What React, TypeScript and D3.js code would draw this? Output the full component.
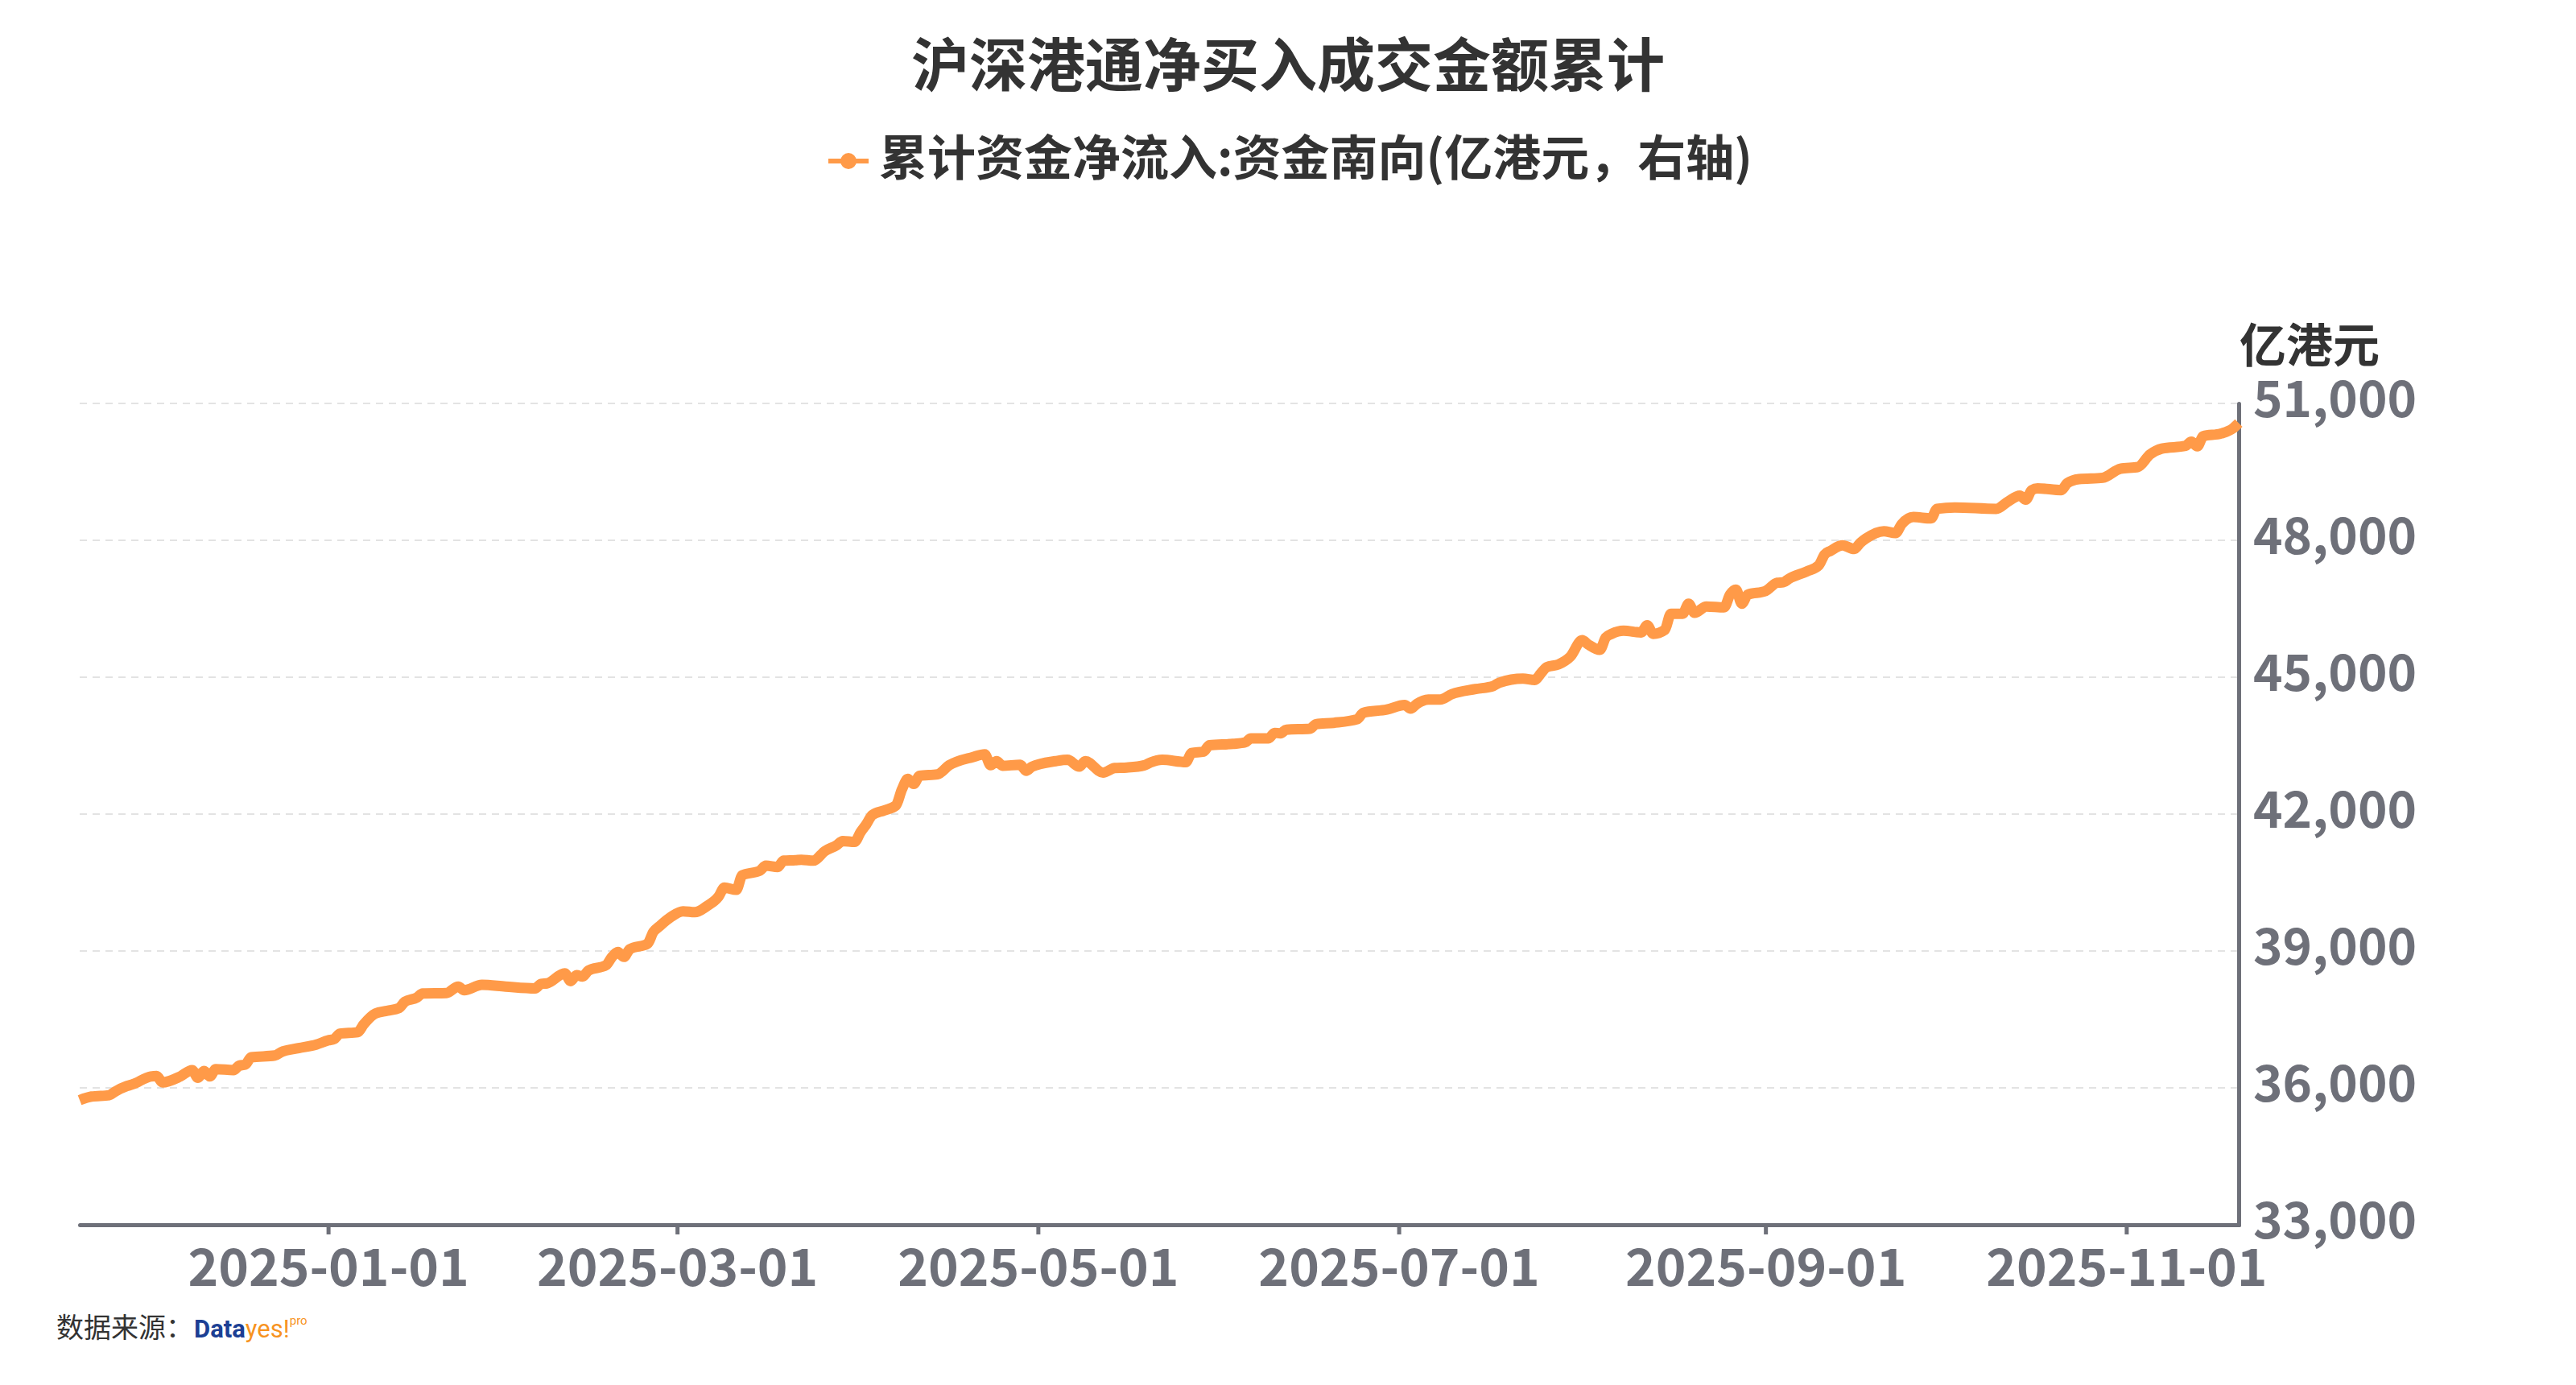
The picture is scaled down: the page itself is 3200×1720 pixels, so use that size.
import * as React from 'react';
import { axisBottom, axisRight, curveMonotoneX, format, line, scaleLinear, scaleTime, select, timeFormat, timeParse } from 'd3';

const W = 3200;
const H = 1720;

const title = '沪深港通净买入成交金额累计';
const seriesName = '累计资金净流入:资金南向(亿港元，右轴)';
const unitLabel = '亿港元';

const dates = [
    '2024-11-20', '2024-11-22', '2024-11-25', '2024-11-26', '2024-11-28', '2024-11-29', '2024-12-02', '2024-12-03',
    '2024-12-04', '2024-12-07', '2024-12-09', '2024-12-10', '2024-12-11', '2024-12-12', '2024-12-13', '2024-12-16',
    '2024-12-17', '2024-12-18', '2024-12-19', '2024-12-23', '2024-12-24', '2024-12-27', '2024-12-30', '2025-01-01',
    '2025-01-02', '2025-01-03', '2025-01-06', '2025-01-07', '2025-01-09', '2025-01-11', '2025-01-13', '2025-01-14',
    '2025-01-16', '2025-01-17', '2025-01-21', '2025-01-23', '2025-01-24', '2025-01-27', '2025-01-31', '2025-02-05',
    '2025-02-06', '2025-02-07', '2025-02-10', '2025-02-11', '2025-02-12', '2025-02-13', '2025-02-14', '2025-02-17',
    '2025-02-18', '2025-02-19', '2025-02-20', '2025-02-21', '2025-02-24', '2025-02-25', '2025-02-26', '2025-02-28',
    '2025-03-02', '2025-03-04', '2025-03-06', '2025-03-08', '2025-03-09', '2025-03-11', '2025-03-12', '2025-03-15',
    '2025-03-16', '2025-03-18', '2025-03-19', '2025-03-21', '2025-03-22', '2025-03-24', '2025-03-26', '2025-03-28',
    '2025-03-29', '2025-03-31', '2025-04-01', '2025-04-02', '2025-04-03', '2025-04-05', '2025-04-07', '2025-04-08',
    '2025-04-09', '2025-04-10', '2025-04-11', '2025-04-14', '2025-04-16', '2025-04-20', '2025-04-22', '2025-04-23',
    '2025-04-24', '2025-04-25', '2025-04-28', '2025-04-29', '2025-04-30', '2025-05-04', '2025-05-06', '2025-05-08',
    '2025-05-09', '2025-05-12', '2025-05-14', '2025-05-16', '2025-05-19', '2025-05-20', '2025-05-22', '2025-05-26',
    '2025-05-27', '2025-05-29', '2025-05-30', '2025-06-03', '2025-06-05', '2025-06-06', '2025-06-09', '2025-06-10',
    '2025-06-11', '2025-06-12', '2025-06-16', '2025-06-17', '2025-06-20', '2025-06-24', '2025-06-25', '2025-06-29',
    '2025-07-02', '2025-07-03', '2025-07-04', '2025-07-06', '2025-07-08', '2025-07-10', '2025-07-14', '2025-07-17',
    '2025-07-18', '2025-07-22', '2025-07-24', '2025-07-25', '2025-07-26', '2025-07-28', '2025-07-30', '2025-08-01',
    '2025-08-02', '2025-08-04', '2025-08-05', '2025-08-06', '2025-08-08', '2025-08-11', '2025-08-12', '2025-08-13',
    '2025-08-15', '2025-08-16', '2025-08-18', '2025-08-19', '2025-08-20', '2025-08-22', '2025-08-25', '2025-08-26',
    '2025-08-27', '2025-08-28', '2025-08-29', '2025-09-01', '2025-09-03', '2025-09-04', '2025-09-05', '2025-09-08',
    '2025-09-10', '2025-09-11', '2025-09-12', '2025-09-14', '2025-09-16', '2025-09-17', '2025-09-18', '2025-09-21',
    '2025-09-23', '2025-09-24', '2025-09-26', '2025-09-29', '2025-09-30', '2025-10-03', '2025-10-10', '2025-10-12',
    '2025-10-14', '2025-10-15', '2025-10-16', '2025-10-17', '2025-10-21', '2025-10-22', '2025-10-24', '2025-10-28',
    '2025-10-31', '2025-11-03', '2025-11-05', '2025-11-07', '2025-11-11', '2025-11-12', '2025-11-13', '2025-11-14',
    '2025-11-17', '2025-11-19', '2025-11-20',
];

// 累计资金净流入:资金南向, 亿港元
const values = [
    35730, 35810, 35840, 35920, 36040, 36080, 36250, 36260,
    36120, 36250, 36390, 36220, 36370, 36250, 36410, 36390,
    36490, 36510, 36670, 36710, 36780, 36870, 36950, 37040,
    37070, 37190, 37220, 37390, 37630, 37690, 37750, 37890,
    37980, 38070, 38080, 38220, 38140, 38260, 38220, 38180,
    38280, 38290, 38510, 38340, 38470, 38440, 38570, 38690,
    38870, 38980, 38870, 39040, 39160, 39420, 39540, 39750,
    39870, 39850, 39980, 40190, 40390, 40340, 40660, 40760,
    40870, 40840, 40980, 40990, 41000, 40980, 41190, 41320,
    41410, 41390, 41600, 41780, 41980, 42080, 42190, 42540,
    42770, 42660, 42840, 42870, 43070, 43250, 43310, 43070,
    43160, 43060, 43080, 42950, 43040, 43160, 43190, 43040,
    43160, 42910, 43010, 43020, 43070, 43130, 43190, 43140,
    43340, 43370, 43510, 43540, 43570, 43660, 43660, 43780,
    43770, 43850, 43870, 43970, 44000, 44080, 44220, 44290,
    44390, 44310, 44410, 44510, 44510, 44630, 44740, 44810,
    44880, 44970, 44940, 45080, 45220, 45280, 45450, 45810,
    45720, 45600, 45870, 45950, 46020, 45980, 46140, 45950,
    46040, 46390, 46390, 46610, 46410, 46550, 46530, 46810,
    46920, 46610, 46810, 46890, 47070, 47080, 47160, 47320,
    47450, 47690, 47770, 47890, 47810, 47940, 48040, 48200,
    48160, 48350, 48510, 48480, 48690, 48720, 48690, 48850,
    48980, 48890, 49100, 49140, 49100, 49250, 49340, 49370,
    49570, 49610, 49880, 50010, 50070, 50160, 50060, 50280,
    50340, 50450, 50570,
];

const xDomain = ['2024-11-20', '2025-11-20'];
const xTicks = ['2025-01-01', '2025-03-01', '2025-05-01', '2025-07-01', '2025-09-01', '2025-11-01'];
const yDomain = [33000, 51000];
const yTicks = [33000, 36000, 39000, 42000, 45000, 48000, 51000];

const FONT = '"Noto Sans CJK SC", "Noto Sans", sans-serif';
const AXIS_COLOR = '#6e7079';
const LINE_COLOR = '#ff9a48';

const margin = { left: 99, right: 419, top: 501, bottom: 199 };

const parse = timeParse('%Y-%m-%d');

const App = () => {
    const xAxisRef = React.useRef<SVGGElement>(null);
    const yAxisRef = React.useRef<SVGGElement>(null);

    const xScale = scaleTime()
        .domain(xDomain.map((d) => parse(d)!))
        .range([margin.left, W - margin.right]);
    const yScale = scaleLinear()
        .domain(yDomain)
        .range([H - margin.bottom, margin.top]);

    const points = dates.map((d, i) => ({ date: parse(d)!, value: values[i] }));
    const linePath = line<{ date: Date; value: number }>()
        .x((d) => xScale(d.date))
        .y((d) => yScale(d.value))
        .curve(curveMonotoneX)(points);

    React.useEffect(() => {
        const xAxis = axisBottom(xScale)
            .tickValues(xTicks.map((d) => parse(d)!))
            .tickFormat((d) => timeFormat('%Y-%m-%d')(d as Date))
            .tickSize(12)
            .tickSizeOuter(0);
        const gx = select(xAxisRef.current);
        gx.attr('transform', `translate(0, ${H - margin.bottom})`).call(xAxis as any);
        gx.select('.domain').attr('stroke', AXIS_COLOR).attr('stroke-width', 5).attr('stroke-linecap', 'round');
        gx.selectAll('.tick line').attr('stroke', AXIS_COLOR).attr('stroke-width', 5);
        gx.selectAll('.tick text')
            .attr('y', 76)
            .attr('dy', 0)
            .attr('fill', AXIS_COLOR)
            .style('font-size', '64px')
            .style('font-weight', 'bold')
            .style('font-family', FONT);

        const yAxis = axisRight(yScale)
            .tickValues(yTicks)
            .tickFormat((d) => format(',')(d as number))
            .tickSize(0)
            .tickSizeOuter(0)
            .tickPadding(18);
        const gy = select(yAxisRef.current);
        gy.attr('transform', `translate(${W - margin.right}, 0)`).call(yAxis as any);
        gy.select('.domain').attr('stroke', AXIS_COLOR).attr('stroke-width', 5).attr('stroke-linecap', 'round');
        gy.selectAll('.tick text')
            .attr('dy', '0.26em')
            .attr('fill', AXIS_COLOR)
            .style('font-size', '62px')
            .style('font-weight', 'bold')
            .style('font-family', FONT);
    }, []);

    return (
        <svg width={W} height={H} style={{ position: 'absolute', left: 0, top: 0, background: '#fff' }} fontFamily={FONT}>
            <text x={W / 2} y={107} textAnchor="middle" fontSize={72} fontWeight="bold" fill="#333">{title}</text>

            {/* legend */}
            <g>
                <line x1={1029} x2={1079} y1={200} y2={200} stroke={LINE_COLOR} strokeWidth={6} />
                <circle cx={1054} cy={200} r={10} fill={LINE_COLOR} />
                <text x={1092} y={218} fontSize={60} fontWeight="bold" fill="#333">{seriesName}</text>
            </g>

            {/* grid */}
            <g>
                {yTicks.filter((t) => t !== yDomain[0]).map((t) => (
                    <line key={t} x1={margin.left} x2={W - margin.right} y1={yScale(t)} y2={yScale(t)}
                        stroke="#e3e3e3" strokeWidth={2} strokeDasharray="9 7" />
                ))}
            </g>

            <g ref={xAxisRef} />
            <g ref={yAxisRef} />

            <text x={W - margin.right + 1} y={450} fontSize={58} fontWeight="bold" fill="#333">{unitLabel}</text>

            <path d={linePath || ''} fill="none" stroke={LINE_COLOR} strokeWidth={13}
                strokeLinejoin="round" strokeLinecap="butt" />

            {/* source */}
            <g>
                <text x={70} y={1661} fontSize={34} fill="#333">数据来源：</text>
                <text x={241} y={1661} fontSize={31} fontFamily='"Roboto", sans-serif'>
                    <tspan fill="#1c3f94" fontWeight="bold">Data</tspan>
                    <tspan fill="#f7931e">yes!</tspan>
                    <tspan fill="#f7931e" fontSize={15} dy={-16}>pro</tspan>
                </text>
            </g>
        </svg>
    );
};

export default App;
